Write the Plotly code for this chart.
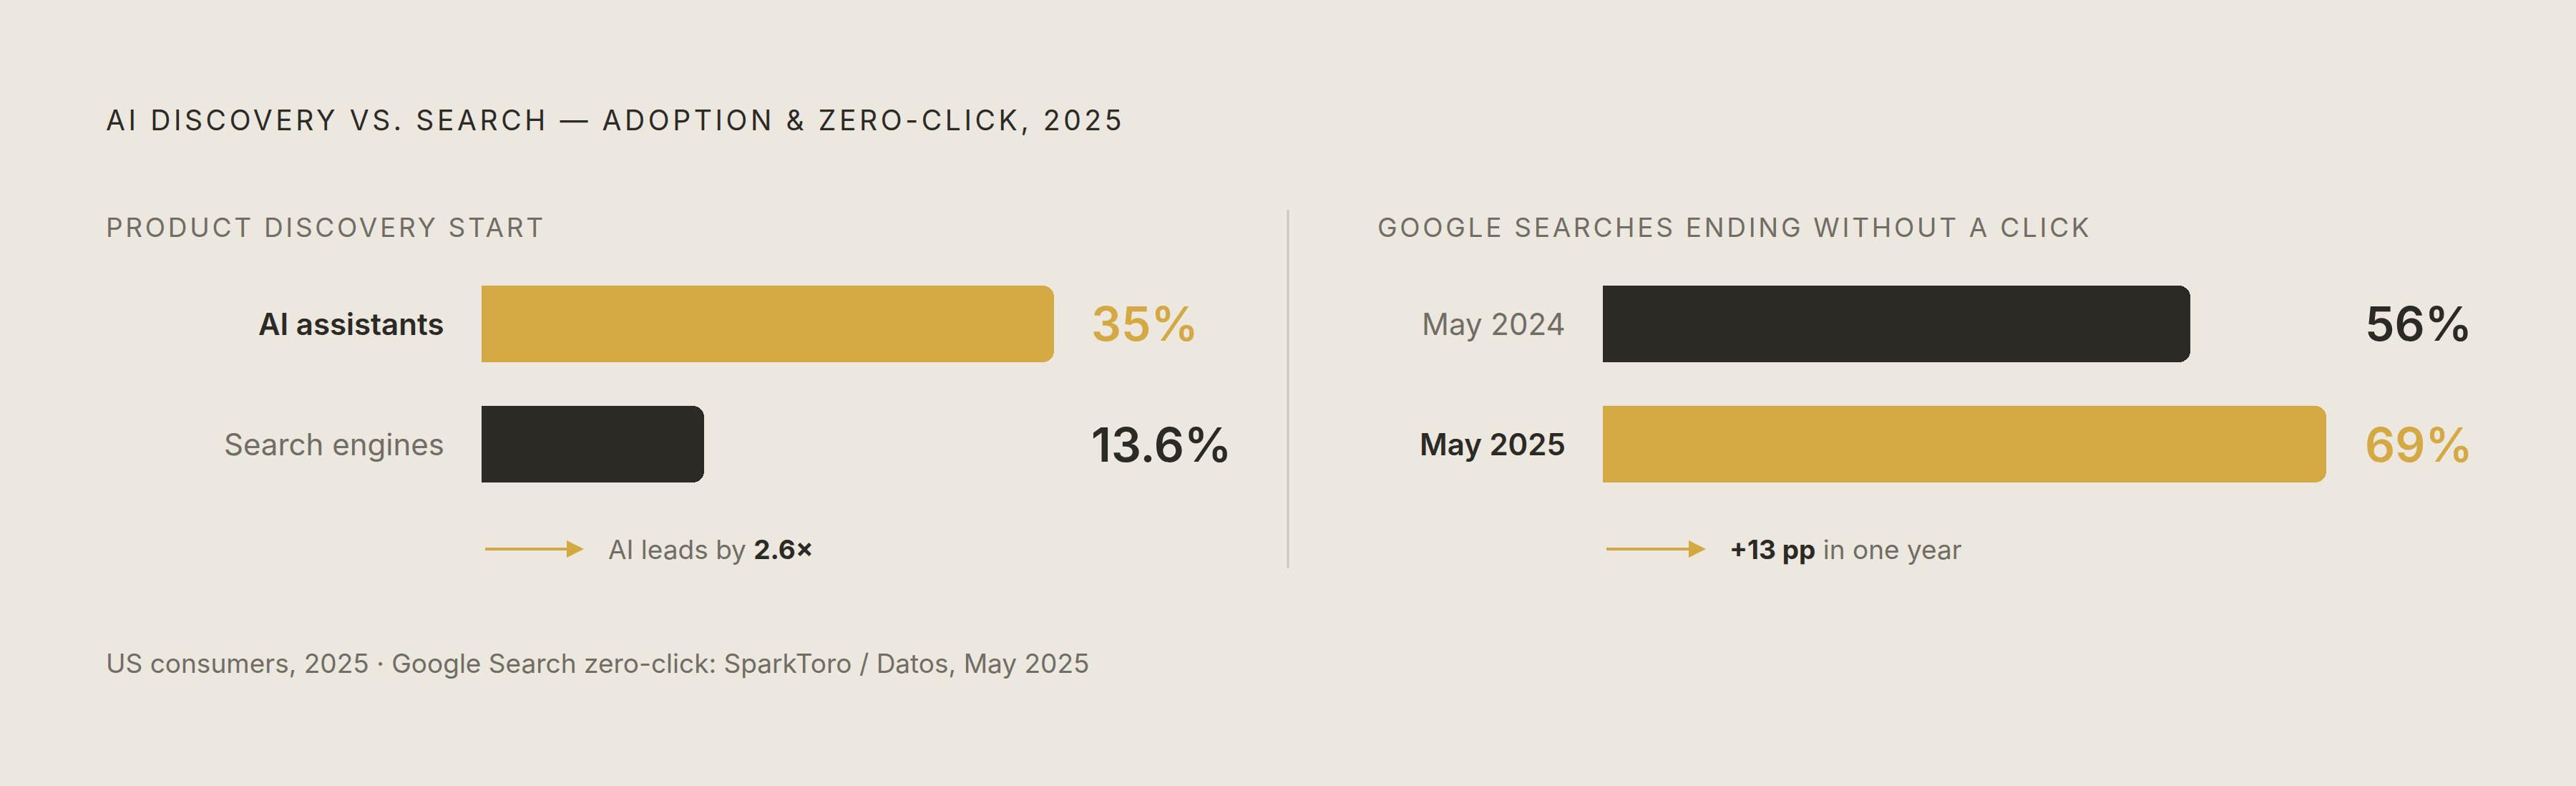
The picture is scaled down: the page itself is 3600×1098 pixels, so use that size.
import plotly.graph_objects as go

# ---------------- data ----------------
left_title = "PRODUCT DISCOVERY START"
left_categories = ["AI assistants", "Search engines"]
left_values = [35, 13.6]
left_labels = ["35%", "13.6%"]

right_title = "GOOGLE SEARCHES ENDING WITHOUT A CLICK"
right_categories = ["May 2024", "May 2025"]
right_values = [56, 69]
right_labels = ["56%", "69%"]

chart_title = "AI DISCOVERY VS. SEARCH \u2014 ADOPTION & ZERO-CLICK, 2025"
footnote = "US consumers, 2025 \u00b7 Google Search zero-click: SparkToro / Datos, May 2025"

# ---------------- style ----------------
W, H = 3600, 1098
BG = "#ECE8E0"
GOLD = "#D4A843"
DARK = "#2B2A25"
GRAY = "#716D65"
RULE = "#CFC8BC"
FONT = "Inter"

def px(x):
    return x / W

def py(y):
    return 1 - y / H

fig = go.Figure()

left_colors = [GOLD, DARK]
right_colors = [DARK, GOLD]
left_hl = [True, False]
right_hl = [False, True]

fig.add_trace(go.Bar(
    orientation="h", x=left_values, y=list(range(len(left_values))),
    marker=dict(color=left_colors, cornerradius=16, line=dict(width=0)),
    width=0.635, xaxis="x", yaxis="y", hoverinfo="skip", showlegend=False,
))
fig.add_trace(go.Bar(
    orientation="h", x=right_values, y=list(range(len(right_values))),
    marker=dict(color=right_colors, cornerradius=16, line=dict(width=0)),
    width=0.635, xaxis="x2", yaxis="y2", hoverinfo="skip", showlegend=False,
))

L_DOM = (673, 1473)
R_DOM = (2240, 3251)
Y_DOM = (368, 705)

axis_common = dict(showgrid=False, zeroline=False, showticklabels=False,
                   showline=False, ticks="", fixedrange=True)

fig.update_layout(
    width=W, height=H,
    margin=dict(l=0, r=0, t=0, b=0),
    paper_bgcolor=BG, plot_bgcolor=BG,
    bargap=0,
    xaxis=dict(domain=[px(L_DOM[0]), px(L_DOM[1])], range=[0, max(left_values)], **axis_common),
    yaxis=dict(domain=[py(Y_DOM[1]), py(Y_DOM[0])], range=[len(left_values) - 0.5, -0.5], **axis_common),
    xaxis2=dict(domain=[px(R_DOM[0]), px(R_DOM[1])], range=[0, max(right_values)], **axis_common),
    yaxis2=dict(domain=[py(Y_DOM[1]), py(Y_DOM[0])], range=[len(right_values) - 0.5, -0.5],
                anchor="x2", **axis_common),
    font=dict(family=FONT, color=DARK),
)

ann = []
# chart title
ann.append(dict(text=chart_title, x=px(146), y=py(168), xref="paper", yref="paper",
                xanchor="left", yanchor="middle", align="left", showarrow=False,
                font=dict(family=FONT, size=39, color=DARK)))
# panel titles
ann.append(dict(text=left_title, x=px(146), y=py(317), xref="paper", yref="paper",
                xanchor="left", yanchor="middle", align="left", showarrow=False,
                font=dict(family=FONT, size=37, color=GRAY)))
ann.append(dict(text=right_title, x=px(1923), y=py(317), xref="paper", yref="paper",
                xanchor="left", yanchor="middle", align="left", showarrow=False,
                font=dict(family=FONT, size=37, color=GRAY)))

def panel(cats, vals, labels, colors, hl, yref, label_right_px, value_left_px):
    for i, (c, v, lab, col, h) in enumerate(zip(cats, vals, labels, colors, hl)):
        ann.append(dict(text=c, x=px(label_right_px), y=i, xref="paper", yref=yref,
                        xanchor="right", yanchor="middle", align="right", showarrow=False,
                        font=dict(family=FONT, size=42, color=DARK if h else GRAY,
                                  weight=600 if h else 400)))
        ann.append(dict(text=lab, x=px(value_left_px), y=i, xref="paper", yref=yref,
                        xanchor="left", yanchor="middle", align="left", showarrow=False,
                        font=dict(family=FONT, size=66, color=col, weight=600)))

panel(left_categories, left_values, left_labels, left_colors, left_hl, "y", 623, L_DOM[1] + 50)
panel(right_categories, right_values, right_labels, right_colors, right_hl, "y2", 2190, R_DOM[1] + 52)

ratio = left_values[0] / left_values[1]
delta = right_values[1] - right_values[0]
left_note = f"AI leads by <b><span style='color:{DARK}'>{ratio:.1f}\u00d7</span></b>"
right_note = f"<b><span style='color:{DARK}'>+{delta:g} pp</span></b> in one year"

ann.append(dict(text=left_note, x=px(848), y=py(767), xref="paper", yref="paper",
                xanchor="left", yanchor="middle", align="left", showarrow=False,
                font=dict(family=FONT, size=37, color=GRAY)))
ann.append(dict(text=right_note, x=px(2415), y=py(767), xref="paper", yref="paper",
                xanchor="left", yanchor="middle", align="left", showarrow=False,
                font=dict(family=FONT, size=37, color=GRAY)))
# footnote
ann.append(dict(text=footnote, x=px(146), y=py(926), xref="paper", yref="paper",
                xanchor="left", yanchor="middle", align="left", showarrow=False,
                font=dict(family=FONT, size=37, color=GRAY)))

shapes = []
# divider
shapes.append(dict(type="line", xref="paper", yref="paper", x0=px(1800), x1=px(1800),
                   y0=py(293), y1=py(794), line=dict(color=RULE, width=3)))
# arrows
for x0, x1 in [(678, 794), (2245, 2362)]:
    shapes.append(dict(type="line", xref="paper", yref="paper", x0=px(x0), x1=px(x1),
                       y0=py(767), y1=py(767), line=dict(color=GOLD, width=4)))
    tip = x1 + 22
    shapes.append(dict(type="path", xref="paper", yref="paper",
                       path=f"M {px(x1-2)} {py(755)} L {px(tip)} {py(767)} L {px(x1-2)} {py(779)} Z",
                       fillcolor=GOLD, line=dict(width=0)))

fig.update_layout(annotations=ann, shapes=shapes)

post = """
document.documentElement.style.margin = '0';
document.documentElement.style.padding = '0';
document.documentElement.style.overflow = 'hidden';
document.body.style.margin = '0';
document.body.style.padding = '0';
document.body.style.overflow = 'hidden';
document.body.style.background = '#ECE8E0';
var gd = document.getElementById('{plot_id}');
function ls(){
  gd.querySelectorAll('text.annotation-text').forEach(function(t){
    var s = t.textContent;
    if (s.indexOf('AI DISCOVERY') === 0) { t.style.letterSpacing = '4.6px'; }
    else if (s === 'PRODUCT DISCOVERY START' || s === 'GOOGLE SEARCHES ENDING WITHOUT A CLICK') { t.style.letterSpacing = '3.7px'; }
  });
}
ls();
gd.on('plotly_afterplot', ls);
"""

fig.write_html("out.html", post_script=post, config={"displayModeBar": False})
